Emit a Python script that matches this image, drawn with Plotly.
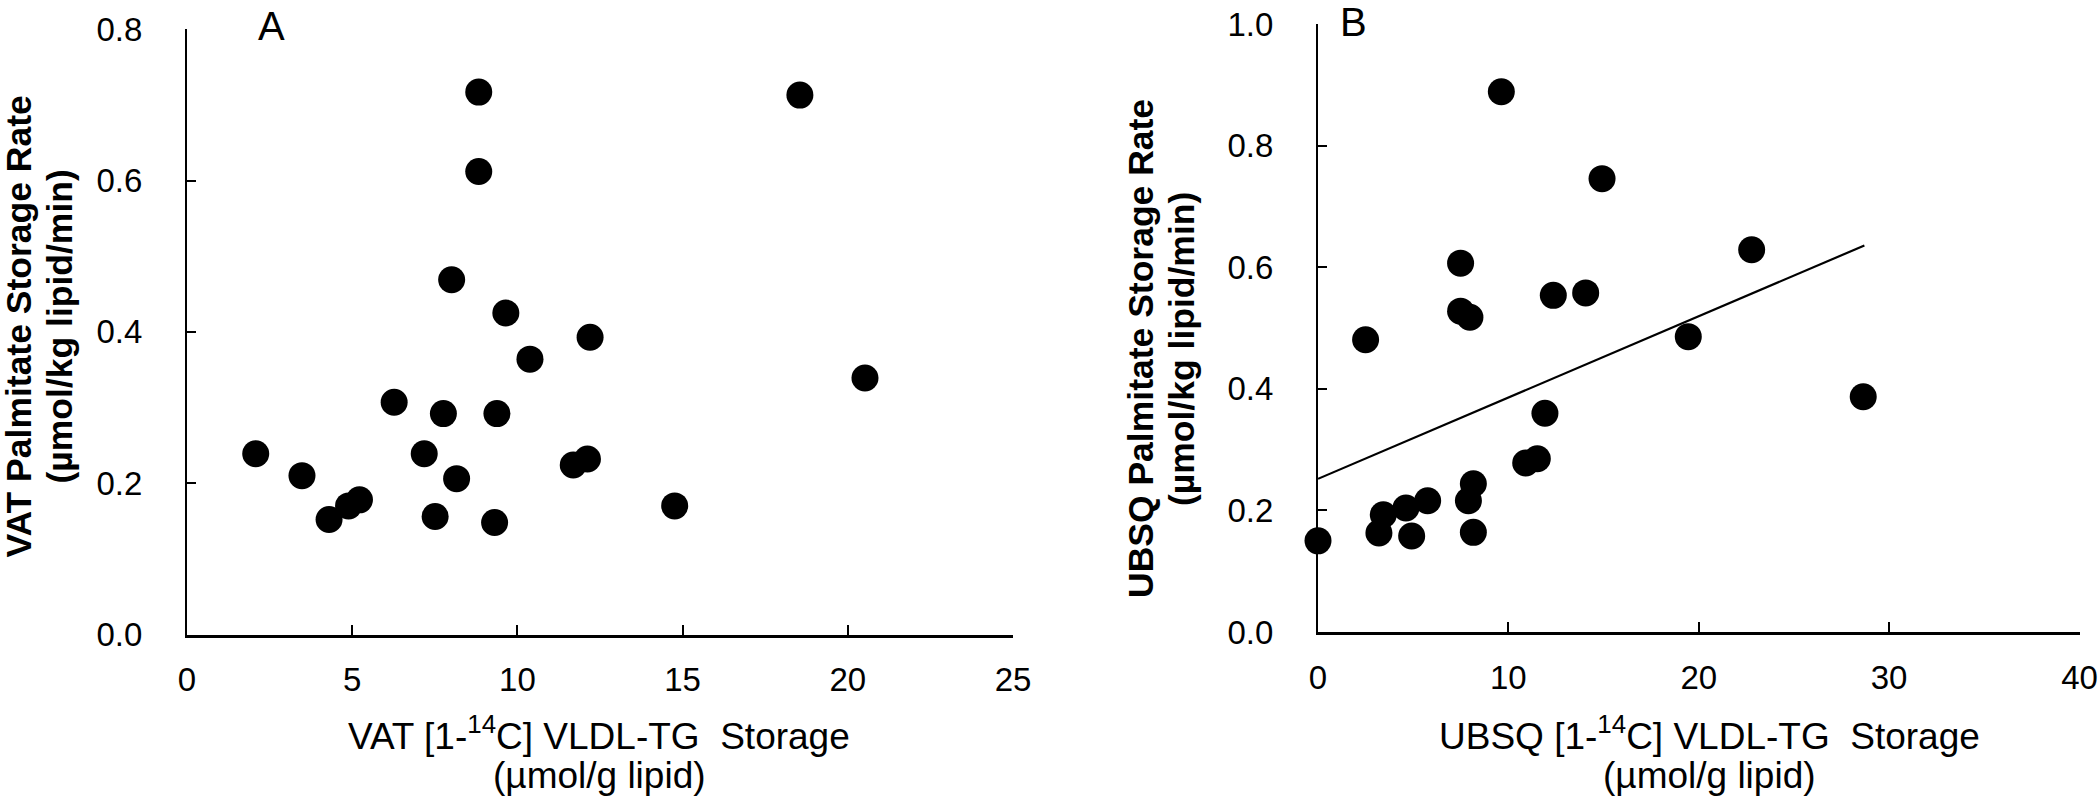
import plotly.graph_objects as go

# ---------------- data ----------------
vat_x = [8.83, 8.83, 8.01, 9.65, 12.2, 18.55, 2.08, 3.48, 4.30, 4.89, 5.22, 6.27,
         7.76, 9.38, 7.18, 8.16, 7.51, 9.31, 10.38, 11.69, 12.12, 20.52, 14.76]
vat_y = [0.717, 0.612, 0.469, 0.425, 0.393, 0.713, 0.239, 0.210, 0.152, 0.170, 0.178, 0.307,
         0.292, 0.292, 0.239, 0.206, 0.156, 0.148, 0.364, 0.224, 0.232, 0.339, 0.170]

ubsq_x = [9.63, 14.92, 7.49, 12.36, 14.06, 7.49, 7.98, 2.50, 19.45, 11.92, 10.91, 11.52,
          8.16, 7.90, 8.16, 5.76, 4.62, 3.43, 3.20, 4.92, 0.0, 28.64, 22.78]
ubsq_y = [0.889, 0.746, 0.607, 0.554, 0.558, 0.528, 0.518, 0.481, 0.486, 0.360, 0.278, 0.285,
          0.244, 0.216, 0.164, 0.216, 0.204, 0.193, 0.163, 0.158, 0.150, 0.387, 0.629]

fit_x = [0.0, 28.7]
fit_y = [0.252, 0.636]

a_xticks = [0, 5, 10, 15, 20, 25]
a_yticks = [0.0, 0.2, 0.4, 0.6, 0.8]
b_xticks = [0, 10, 20, 30, 40]
b_yticks = [0.0, 0.2, 0.4, 0.6, 0.8, 1.0]

a_ytitle = ["VAT Palmitate Storage Rate", "(µmol/kg lipid/min)"]
b_ytitle = ["UBSQ Palmitate Storage Rate", "(µmol/kg lipid/min)"]
a_xtitle = ["VAT [1-<sup>14</sup>C] VLDL-TG\u00a0 Storage", "(µmol/g lipid)"]
b_xtitle = ["UBSQ [1-<sup>14</sup>C] VLDL-TG\u00a0 Storage", "(µmol/g lipid)"]

# ---------------- figure ----------------
W, H = 2100, 797
FONT = "Liberation Sans Narrow, Arial Narrow, Liberation Sans, Arial, sans-serif"


def px(x):
    return x / W


def py(y):
    return 1 - y / H


fig = go.Figure()

marker = dict(color="black", size=27, line=dict(width=0))
fig.add_trace(go.Scatter(x=vat_x, y=vat_y, mode="markers", marker=marker,
                         xaxis="x", yaxis="y", cliponaxis=False, showlegend=False))
fig.add_trace(go.Scatter(x=ubsq_x, y=ubsq_y, mode="markers", marker=marker,
                         xaxis="x2", yaxis="y2", cliponaxis=False, showlegend=False))
fig.add_trace(go.Scatter(x=fit_x, y=fit_y, mode="lines", line=dict(color="black", width=2.2),
                         xaxis="x2", yaxis="y2", showlegend=False))

tickfont = dict(family=FONT, size=33, color="black")

common_x = dict(showgrid=False, zeroline=False, showline=True, linecolor="black", linewidth=3,
                ticks="inside", ticklen=10, tickwidth=2, tickcolor="black", automargin=False,
                tickfont=tickfont, ticklabelstandoff=14, fixedrange=True)
common_y = dict(showgrid=False, zeroline=False, showline=True, linecolor="black", linewidth=2,
                ticks="inside", ticklen=9, tickwidth=2, tickcolor="black", automargin=False,
                tickfont=tickfont, ticklabelstandoff=36, tickformat=".1f", fixedrange=True)

fig.update_layout(
    width=W, height=H,
    margin=dict(l=0, r=0, t=0, b=0, autoexpand=False),
    paper_bgcolor="white", plot_bgcolor="white",
    hovermode=False,
    xaxis=dict(domain=[px(187), px(1013)], range=[0, 25], tickvals=a_xticks, anchor="y", **common_x),
    yaxis=dict(domain=[py(634.5), py(29.3)], range=[0, 0.8], tickvals=a_yticks, anchor="x", **common_y),
    xaxis2=dict(domain=[px(1318), px(2079.5)], range=[0, 40], tickvals=b_xticks, anchor="y2", **common_x),
    yaxis2=dict(domain=[py(632), py(24.3)], range=[0, 1.0], tickvals=b_yticks, anchor="x2", **common_y),
)

ann = []
ytitle_font = dict(family=FONT, size=35.5, color="black")
xtitle_font = dict(family=FONT, size=37, color="black")

# y titles (rotated)
for (lines, x1, x2, yc) in [(a_ytitle, 19, 60, 326.5), (b_ytitle, 1141, 1182, 349)]:
    ann.append(dict(text="<b>%s</b>" % lines[0], x=px(x1), y=py(yc), xref="paper", yref="paper",
                    xanchor="center", yanchor="middle", textangle=-90, showarrow=False, font=ytitle_font))
    ann.append(dict(text="<b>%s</b>" % lines[1], x=px(x2), y=py(yc), xref="paper", yref="paper",
                    xanchor="center", yanchor="middle", textangle=-90, showarrow=False, font=ytitle_font))

# x titles
for (lines, xc) in [(a_xtitle, 599), (b_xtitle, 1709)]:
    ann.append(dict(text=lines[0], x=px(xc), y=py(733), xref="paper", yref="paper",
                    xanchor="center", yanchor="middle", showarrow=False, font=xtitle_font))
    ann.append(dict(text=lines[1], x=px(xc), y=py(775), xref="paper", yref="paper",
                    xanchor="center", yanchor="middle", showarrow=False, font=xtitle_font))

# panel letters
ann.append(dict(text="A", x=px(271), y=py(26), xref="paper", yref="paper", xanchor="center",
                yanchor="middle", showarrow=False, font=dict(family=FONT, size=40, color="black")))
ann.append(dict(text="B", x=px(1353), y=py(22), xref="paper", yref="paper", xanchor="center",
                yanchor="middle", showarrow=False, font=dict(family=FONT, size=40, color="black")))

fig.update_layout(annotations=ann)

fig.write_html(
    "out.html",
    config={"displayModeBar": False, "staticPlot": True},
    post_script="document.body.style.margin='0';document.body.style.overflow='hidden';",
)
